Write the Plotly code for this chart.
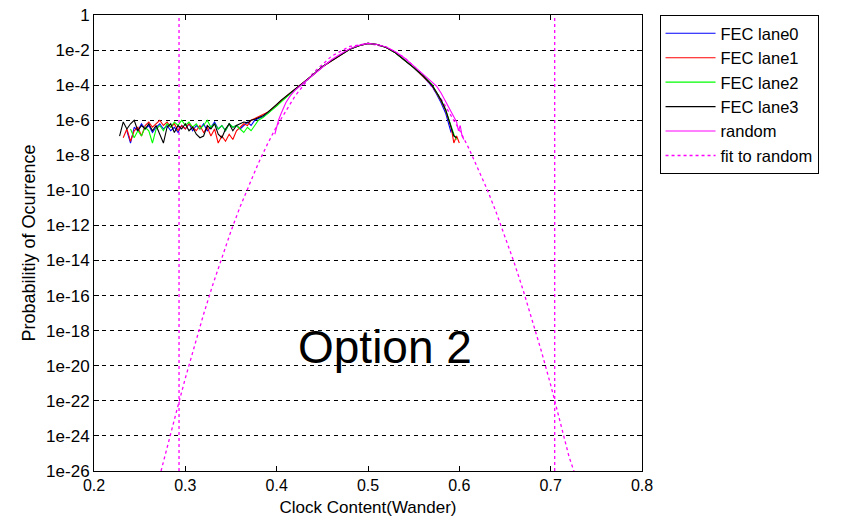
import plotly.graph_objects as go

# ---------------- data (log10 of probability) ----------------
floor_x = [0.228, 0.232, 0.236, 0.240, 0.244, 0.248, 0.252, 0.256, 0.260, 0.264,
           0.268, 0.272, 0.276, 0.280, 0.284, 0.288, 0.292, 0.296, 0.300, 0.304,
           0.308, 0.312, 0.316, 0.320, 0.324, 0.328, 0.332, 0.336, 0.340, 0.344,
           0.348, 0.352, 0.356, 0.360, 0.364, 0.368, 0.372, 0.376, 0.380]

lane0_floor = [None, None, -6.6, -7.3, -6.4, -6.6, -6.2, -6.5, -6.3, -6.7,
               -6.4, -6.2, -6.5, -6.3, -6.6, -6.4, -6.7, -6.3, -6.5, -6.2,
               -6.6, -6.3, -6.5, -6.2, -6.6, -6.4, -6.1, -6.5, -6.3, -6.6,
               -6.2, -6.4, -6.3, -6.5, -6.3, -6.1, -6.3, -6.0, -5.9]
lane1_floor = [None, -7.0, -6.5, -7.2, -6.6, -6.4, -6.9, -6.3, -6.1, -6.4,
               -6.2, -6.0, -6.3, -6.1, -6.4, -6.2, -6.6, -6.3, -6.5, -6.2,
               -6.4, -6.6, -6.3, -6.7, -6.4, -6.9, -6.5, -7.3, -6.9, -7.2,
               -6.8, -7.1, -6.6, -6.4, -6.2, -6.3, -6.0, -5.9, -5.8]
lane2_floor = [None, None, None, -6.5, -7.0, -6.6, -6.9, -6.4, -6.6, -7.3,
               -6.5, -6.3, -6.6, -6.2, -6.4, -6.1, -6.3, -6.0, -6.3, -6.1,
               -6.4, -6.2, -6.5, -6.3, -6.0, -6.4, -6.2, -6.5, -6.3, -6.6,
               -6.2, -6.4, -6.3, -6.5, -6.7, -6.4, -6.6, -6.3, -6.0]
lane3_floor = [-6.9, -6.1, -6.5, -6.2, -6.0, -6.6, -6.3, -6.5, -6.2, -6.6,
               -6.3, -6.8, -7.3, -6.4, -6.2, -6.7, -6.3, -6.5, -6.2, -6.6,
               -6.4, -6.8, -7.0, -6.9, -6.3, -6.5, -6.2, -6.8, -7.0, -6.5,
               -6.2, -6.6, -6.3, -6.2, -6.1, -6.15, -6.0, -5.95, -5.85]

body_x = [0.385, 0.39, 0.395, 0.40, 0.405, 0.41, 0.415, 0.42, 0.43, 0.44,
          0.45, 0.46, 0.47, 0.48, 0.49, 0.50, 0.51, 0.52, 0.53, 0.54,
          0.55, 0.56, 0.57, 0.575, 0.58, 0.585, 0.588, 0.591, 0.594, 0.597, 0.600]
lane0_body = [-5.8, -5.6, -5.4, -5.15, -4.9, -4.7, -4.45, -4.25, -3.85, -3.4,
              -2.95, -2.6, -2.25, -1.95, -1.75, -1.62, -1.68, -1.85, -2.15, -2.55,
              -3.0, -3.5, -4.05, -4.5, -5.0, -5.6, -6.1, -6.7, None, None, None]
lane1_body = [-5.7, -5.55, -5.35, -5.1, -4.85, -4.65, -4.45, -4.25, -3.85, -3.4,
              -2.95, -2.6, -2.25, -1.95, -1.75, -1.62, -1.68, -1.85, -2.15, -2.55,
              -3.0, -3.5, -4.0, -4.45, -4.9, -5.45, -5.9, -6.4, -7.3, -6.9, -7.3]
lane2_body = [-5.85, -5.65, -5.4, -5.2, -4.95, -4.7, -4.5, -4.25, -3.85, -3.4,
              -2.95, -2.6, -2.25, -1.95, -1.75, -1.62, -1.68, -1.85, -2.15, -2.55,
              -3.0, -3.45, -3.95, -4.4, -4.85, -5.4, -5.85, -6.3, -6.8, -7.1, None]
lane3_body = [-5.75, -5.55, -5.35, -5.1, -4.85, -4.65, -4.45, -4.25, -3.85, -3.4,
              -2.95, -2.6, -2.25, -1.95, -1.75, -1.62, -1.68, -1.85, -2.15, -2.55,
              -3.0, -3.45, -4.0, -4.4, -4.85, -5.4, -5.9, -6.4, -6.9, -7.0, None]

random_x = [0.398, 0.400, 0.402, 0.405, 0.41, 0.415, 0.42, 0.43, 0.44, 0.45,
            0.46, 0.47, 0.48, 0.49, 0.50, 0.51, 0.52, 0.53, 0.54, 0.55,
            0.56, 0.57, 0.575, 0.58, 0.585, 0.59, 0.594, 0.597, 0.599, 0.601, 0.603, 0.605]
random_log = [-6.8, -6.3, -6.0, -5.6, -5.0, -4.6, -4.3, -3.85, -3.4, -2.95,
              -2.55, -2.22, -1.93, -1.73, -1.62, -1.68, -1.82, -2.1, -2.45, -2.9,
              -3.35, -3.8, -4.05, -4.45, -4.95, -5.45, -5.85, -6.1, -6.6, -6.3, -6.9, -7.1]

fit_x = [0.2734, 0.28, 0.29, 0.30, 0.31, 0.32, 0.33, 0.34, 0.35, 0.36,
         0.37, 0.38, 0.39, 0.40, 0.42, 0.44, 0.46, 0.48, 0.50, 0.52,
         0.54, 0.56, 0.58, 0.60, 0.61, 0.62, 0.63, 0.64, 0.65, 0.66,
         0.67, 0.68, 0.69, 0.70, 0.71, 0.72, 0.7255]
fit_log = [-26.0, -24.74, -22.67, -20.71, -18.84, -17.06, -15.39, -13.81, -12.32, -10.93,
           -9.64, -8.45, -7.35, -6.34, -4.63, -3.30, -2.35, -1.79, -1.62, -1.83,
           -2.43, -3.41, -4.78, -6.54, -7.56, -8.68, -9.89, -11.20, -12.61, -14.11,
           -15.71, -17.41, -19.20, -21.09, -23.08, -25.16, -26.02]

limit_x = [0.2931, 0.7044]

y_tick_exp = [0, -2, -4, -6, -8, -10, -12, -14, -16, -18, -20, -22, -24, -26]
y_tick_text = ["1", "1e-2", "1e-4", "1e-6", "1e-8", "1e-10", "1e-12", "1e-14",
               "1e-16", "1e-18", "1e-20", "1e-22", "1e-24", "1e-26"]
x_tick_vals = [0.2, 0.3, 0.4, 0.5, 0.6, 0.7, 0.8]
x_tick_text = ["0.2", "0.3", "0.4", "0.5", "0.6", "0.7", "0.8"]

lanes = [("FEC lane0", "#0000ff", lane0_floor, lane0_body),
         ("FEC lane1", "#ff0000", lane1_floor, lane1_body),
         ("FEC lane2", "#00ff00", lane2_floor, lane2_body),
         ("FEC lane3", "#000000", lane3_floor, lane3_body)]


def to_p(vals):
    return [None if v is None else 10 ** v for v in vals]


FONT = "Liberation Sans, Arial, sans-serif"
fig = go.Figure()

# vertical limit lines (part of the fit, not in legend)
for lx in limit_x:
    fig.add_trace(go.Scatter(x=[lx, lx], y=[1e-26, 1], mode="lines", showlegend=False,
                             line=dict(color="#ff00ff", width=1.3, dash="3px,3px"),
                             hoverinfo="skip"))

# fit to random (drawn beneath measurements)
fig.add_trace(go.Scatter(x=fit_x, y=to_p(fit_log), mode="lines", name="fit to random",
                         line=dict(color="#ff00ff", width=1.3, dash="3px,3px"),
                         legendrank=6))

for i, (name, col, fl, bd) in enumerate(lanes):
    fig.add_trace(go.Scatter(x=floor_x + body_x, y=to_p(fl + bd), mode="lines",
                             name=name, connectgaps=False,
                             line=dict(color=col, width=1.1), legendrank=i + 1))

fig.add_trace(go.Scatter(x=random_x, y=to_p(random_log), mode="lines", name="random",
                         line=dict(color="#ff00ff", width=1.1), legendrank=5))

fig.add_annotation(x=0.519, y=-18.95, xref="x", yref="y", text="Option 2",
                   showarrow=False, font=dict(family=FONT, size=46, color="#000000"))

fig.update_layout(
    width=842, height=520,
    margin=dict(l=94, r=200, t=15, b=49, autoexpand=False),
    paper_bgcolor="#ffffff", plot_bgcolor="#ffffff",
    font=dict(family=FONT, size=17, color="#000000"),
    legend=dict(x=1.032, y=1.0, xanchor="left", yanchor="top",
                bordercolor="#000000", borderwidth=1, bgcolor="#ffffff",
                font=dict(family=FONT, size=16.5, color="#000000"),
                traceorder="normal", itemwidth=50),
    xaxis=dict(range=[0.2, 0.8], tickvals=x_tick_vals, ticktext=x_tick_text,
               ticks="inside", ticklen=5, tickcolor="#000000", showgrid=False,
               showline=True, linecolor="#000000", linewidth=1, mirror="ticks",
               zeroline=False, tickfont=dict(family=FONT, size=16), automargin=False,
               title=dict(text="Clock Content(Wander)", font=dict(family=FONT, size=17),
                          standoff=7)),
    yaxis=dict(type="log", range=[-26, 0], tickvals=[10 ** e for e in y_tick_exp],
               ticktext=y_tick_text, ticks="inside", ticklen=5, tickcolor="#000000",
               showgrid=True, gridcolor="#000000", gridwidth=1, griddash="4px,4px",
               showline=True, linecolor="#000000", linewidth=1, mirror="ticks",
               zeroline=False, tickfont=dict(family=FONT, size=17), automargin=False,
               title=dict(text="Probabilitiy of Ocurrence", font=dict(family=FONT, size=18),
                          standoff=5)),
)

fig.write_html("out.html")
